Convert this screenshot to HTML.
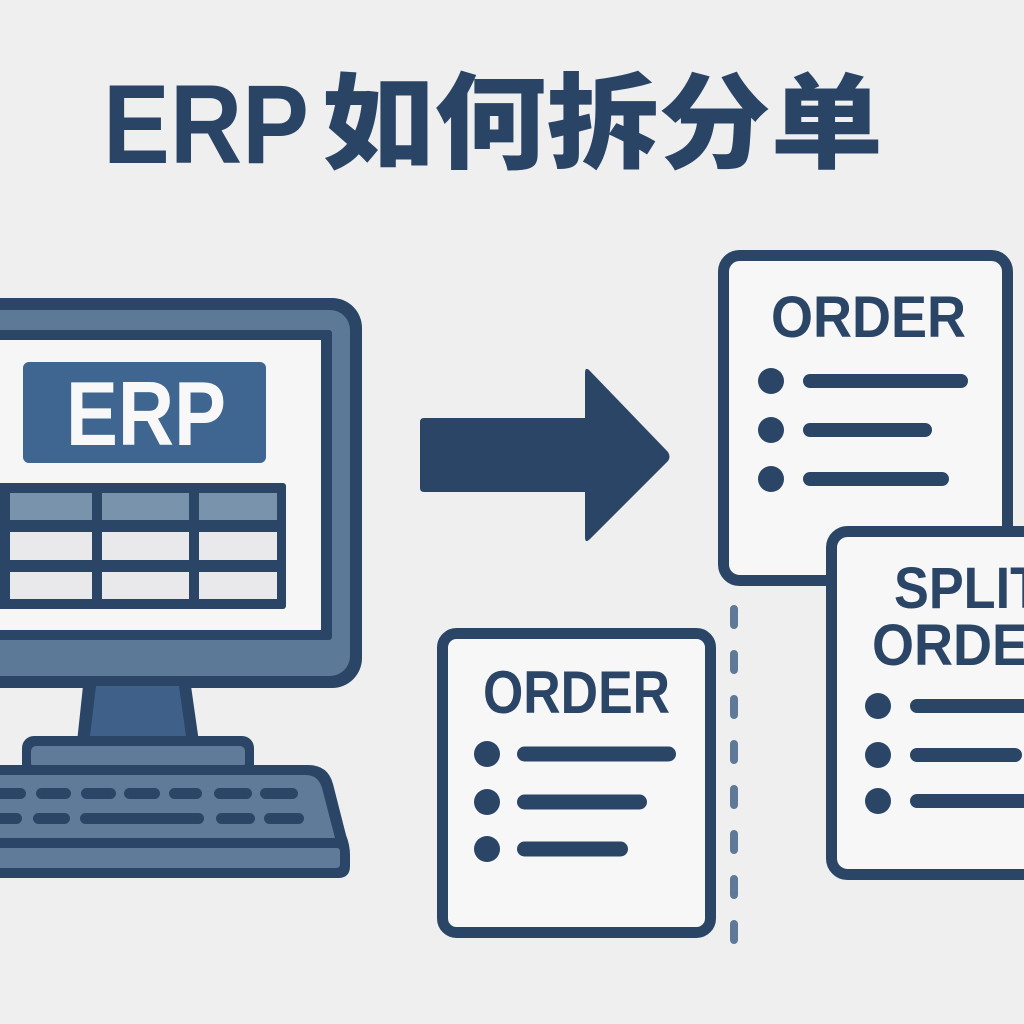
<!DOCTYPE html>
<html>
<head>
<meta charset="utf-8">
<style>
html,body{margin:0;padding:0;background:#efeff0;}
svg{display:block;}
text{font-family:"Liberation Sans","Noto Sans CJK SC",sans-serif;font-weight:bold;}
</style>
</head>
<body>
<svg width="1024" height="1024" viewBox="0 0 1024 1024" xmlns="http://www.w3.org/2000/svg">
  <rect x="0" y="0" width="1024" height="1024" fill="#efeff0"/>

  <!-- Title -->
  <text x="103" y="163" font-size="112" fill="#2a4466" textLength="206" lengthAdjust="spacingAndGlyphs">ERP</text>
  <text x="322" y="160" font-size="104" fill="#2a4466" textLength="561" lengthAdjust="spacingAndGlyphs" style="font-family:'Noto Sans CJK SC','WenQuanYi Zen Hei',sans-serif;font-weight:900;">如何拆分单</text>

  <!-- Monitor -->
  <rect x="-40" y="298" width="402" height="390" rx="30" fill="#2a4566"/>
  <rect x="-40" y="310" width="390" height="366" rx="20" fill="#5d7998"/>
  <rect x="-40" y="330" width="372" height="310" rx="3" fill="#2a4566"/>
  <rect x="-40" y="340" width="361" height="290" fill="#f6f6f6"/>
  <rect x="23" y="362" width="243" height="101" rx="6" fill="#3e6690"/>
  <text x="66" y="445" font-size="91" fill="#f8f8f8" textLength="160" lengthAdjust="spacingAndGlyphs">ERP</text>

  <!-- Table -->
  <rect x="-10" y="483" width="296" height="126" rx="3" fill="#2a4566"/>
  <rect x="10" y="493" width="82" height="27" fill="#7a93ad"/>
  <rect x="102" y="493" width="87" height="27" fill="#7a93ad"/>
  <rect x="199" y="493" width="78" height="27" fill="#7a93ad"/>
  <rect x="10" y="532" width="82" height="28" fill="#e9e9eb"/>
  <rect x="102" y="532" width="87" height="28" fill="#e9e9eb"/>
  <rect x="199" y="532" width="78" height="28" fill="#e9e9eb"/>
  <rect x="10" y="572" width="82" height="27" fill="#e9e9eb"/>
  <rect x="102" y="572" width="87" height="27" fill="#e9e9eb"/>
  <rect x="199" y="572" width="78" height="27" fill="#e9e9eb"/>

  <!-- Neck -->
  <polygon points="83,686 191,686 199,742 77,742" fill="#2a4566"/>
  <polygon points="96,686 179,686 186,736 90,736" fill="#3f6189"/>

  <!-- Base -->
  <rect x="22" y="736" width="232" height="40" rx="12" fill="#2a4566"/>
  <rect x="31" y="746" width="214" height="22" rx="5" fill="#5f7b99"/>

  <!-- Keyboard -->
  <path d="M -20 765 L 308 765 Q 328 765 333 784 L 346 835 Q 350 845 350 855 L 350 866 Q 350 878 338 878 L -20 878 Z" fill="#2a4566"/>
  <path d="M -20 775 L 306 775 Q 318 775 322 788 L 335 838 L -20 838 Z" fill="#5f7b99"/>
  <path d="M -20 848 L 337 848 Q 340 848 340 852 L 340 864 Q 340 868 336 868 L -20 868 Z" fill="#5f7b99"/>
  <g fill="#2a4566">
    <rect x="-10" y="788" width="36" height="11" rx="5.5"/>
    <rect x="36" y="788" width="35" height="11" rx="5.5"/>
    <rect x="81" y="788" width="35" height="11" rx="5.5"/>
    <rect x="124" y="788" width="36" height="11" rx="5.5"/>
    <rect x="169" y="788" width="33" height="11" rx="5.5"/>
    <rect x="214" y="788" width="38" height="11" rx="5.5"/>
    <rect x="260" y="788" width="38" height="11" rx="5.5"/>
    <rect x="-10" y="813" width="32" height="11" rx="5.5"/>
    <rect x="33" y="813" width="37" height="11" rx="5.5"/>
    <rect x="80" y="813" width="124" height="11" rx="5.5"/>
    <rect x="216" y="813" width="39" height="11" rx="5.5"/>
    <rect x="264" y="813" width="40" height="11" rx="5.5"/>
  </g>

  <!-- Arrow -->
  <path d="M 420 422 Q 420 418 424 418 L 585 418 L 585 373 Q 585 366 590 371 L 668 452 Q 671 457 668 461 L 590 539 Q 585 544 585 537 L 585 492 L 424 492 Q 420 492 420 488 Z" fill="#2a4566"/>

  <!-- Dashed line -->
  <line x1="734" y1="609" x2="734" y2="942" stroke="#5f7998" stroke-width="8" stroke-linecap="round" stroke-dasharray="16 29"/>

  <!-- Bottom order card -->
  <rect x="442.5" y="633.5" width="268" height="299" rx="14" fill="#f7f7f7" stroke="#2a4566" stroke-width="11"/>
  <text x="483" y="713" font-size="60" fill="#2a4566" textLength="187" lengthAdjust="spacingAndGlyphs">ORDER</text>
  <g fill="#2a4566">
    <circle cx="487" cy="754" r="13"/>
    <circle cx="487" cy="802" r="13"/>
    <circle cx="487" cy="849" r="13"/>
  </g>
  <g stroke="#2a4566" stroke-width="15" stroke-linecap="round">
    <line x1="524.5" y1="754" x2="668.5" y2="754"/>
    <line x1="524.5" y1="802" x2="639.5" y2="802"/>
    <line x1="524.5" y1="849" x2="620.5" y2="849"/>
  </g>

  <!-- Top-right order card -->
  <rect x="723.5" y="255.5" width="284" height="325" rx="16" fill="#f7f7f7" stroke="#2a4566" stroke-width="11"/>
  <text x="771" y="337" font-size="58" fill="#2a4566" textLength="195" lengthAdjust="spacingAndGlyphs">ORDER</text>
  <g fill="#2a4566">
    <circle cx="771" cy="381" r="13"/>
    <circle cx="771" cy="430" r="13"/>
    <circle cx="771" cy="479" r="13"/>
  </g>
  <g stroke="#2a4566" stroke-width="14" stroke-linecap="round">
    <line x1="810" y1="381" x2="961" y2="381"/>
    <line x1="810" y1="430" x2="925" y2="430"/>
    <line x1="810" y1="479" x2="942" y2="479"/>
  </g>

  <!-- Split order card -->
  <rect x="831.5" y="531.5" width="260" height="343" rx="16" fill="#f7f7f7" stroke="#2a4566" stroke-width="11"/>
  <text x="894" y="608" font-size="58" fill="#2a4566" textLength="148" lengthAdjust="spacingAndGlyphs">SPLIT</text>
  <text x="872" y="665" font-size="58" fill="#2a4566" textLength="195" lengthAdjust="spacingAndGlyphs">ORDER</text>
  <g fill="#2a4566">
    <circle cx="878" cy="706" r="13"/>
    <circle cx="878" cy="755" r="13"/>
    <circle cx="878" cy="801" r="13"/>
  </g>
  <g stroke="#2a4566" stroke-width="14" stroke-linecap="round">
    <line x1="917" y1="706" x2="1045" y2="706"/>
    <line x1="917" y1="755" x2="1015" y2="755"/>
    <line x1="917" y1="801" x2="1045" y2="801"/>
  </g>
</svg>
</body>
</html>
